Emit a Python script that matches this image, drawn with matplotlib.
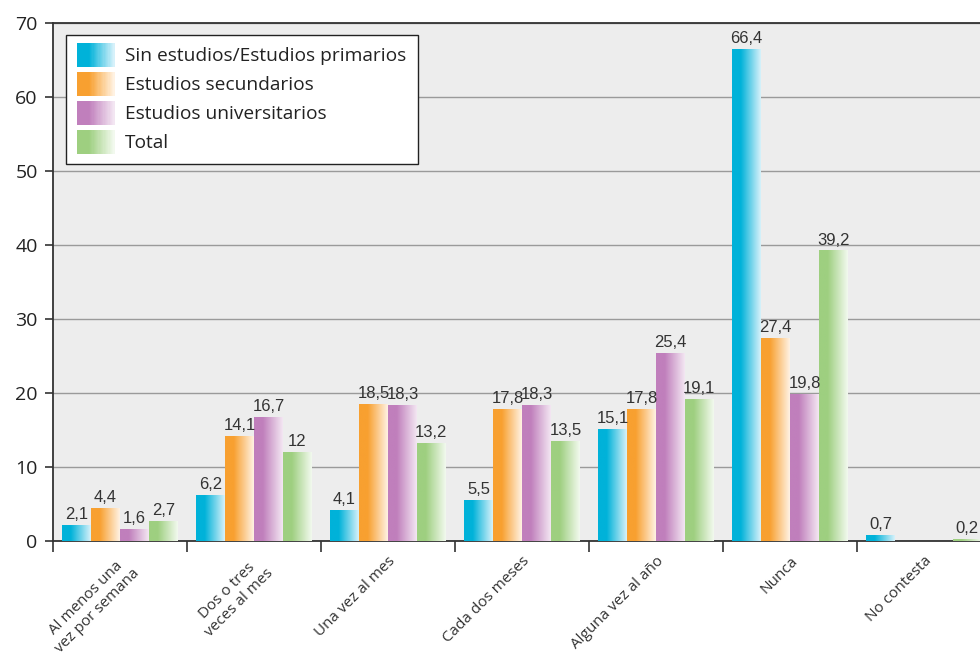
import matplotlib
matplotlib.use("Agg")
import matplotlib.pyplot as plt
import numpy as np
from matplotlib.colors import LinearSegmentedColormap
from matplotlib.patches import Rectangle
from matplotlib.legend_handler import HandlerBase

categories = ["Al menos una\nvez por semana", "Dos o tres\nveces al mes", "Una vez al mes",
              "Cada dos meses", "Alguna vez al año", "Nunca", "No contesta"]
series_names = ["Sin estudios/Estudios primarios", "Estudios secundarios",
                "Estudios universitarios", "Total"]
sin_estudios = [2.1, 6.2, 4.1, 5.5, 15.1, 66.4, 0.7]
secundarios = [4.4, 14.1, 18.5, 17.8, 17.8, 27.4, None]
universitarios = [1.6, 16.7, 18.3, 18.3, 25.4, 19.8, None]
total = [2.7, 12, 13.2, 13.5, 19.1, 39.2, 0.2]
series = [sin_estudios, secundarios, universitarios, total]
yticks = [0, 10, 20, 30, 40, 50, 60, 70]

colors = [("#00b2d9", "#d6f1fa"), ("#f8a030", "#fff2e2"),
          ("#c07fbc", "#f3e6f2"), ("#9ecf80", "#f2f9ee")]
cmaps = [LinearSegmentedColormap.from_list("g%d" % i, [(0, c0), (0.3, c0), (1, c1)])
         for i, (c0, c1) in enumerate(colors)]

fig = plt.figure(figsize=(9.8, 6.55), dpi=100)
ax = fig.add_axes([53/980, 1-541/655, (991-53)/980, (541-23)/655])
ax.set_facecolor("#ededed")

grad = np.linspace(0, 1, 64).reshape(1, -1)
bw = 0.216
n = len(series)
for si, vals in enumerate(series):
    for ci, v in enumerate(vals):
        if v is None:
            continue
        x0 = ci + (si - n/2) * bw
        ax.imshow(grad, extent=[x0, x0 + bw, 0, v], aspect="auto", cmap=cmaps[si],
                  origin="lower", zorder=3, interpolation="bilinear")
        lab = ("%g" % v).replace(".", ",")
        ax.text(x0 + bw/2, v + 0.45, lab, ha="center", va="bottom", fontsize=12,
                color="#333333", family=["Liberation Sans", "DejaVu Sans"], zorder=4)

ax.set_xlim(-0.5, len(categories) - 0.5)
ax.set_ylim(0, 70)
ax.set_yticks(yticks)
ax.set_yticklabels([str(t) for t in yticks], fontsize=14, color="#222222",
                   family=["Open Sans", "DejaVu Sans"])
ax.yaxis.grid(True, color="#9a9a9a", linewidth=1.0, zorder=1)
ax.set_axisbelow(True)

ax.set_xticks(np.arange(len(categories)) - 0.5, minor=False)
ax.set_xticklabels([""] * len(categories))
ax.tick_params(axis="x", which="major", length=8, width=1.2, color="#333333", direction="out")
ax.set_xticks(np.arange(len(categories)), minor=True)
ax.set_xticklabels(categories, minor=True, rotation=45, ha="right", rotation_mode="anchor",
                   fontsize=11, color="#333333", family=["Open Sans", "DejaVu Sans"],
                   multialignment="center")
ax.tick_params(axis="x", which="minor", length=0, pad=9)
ax.tick_params(axis="y", length=6, width=1.2, color="#333333", pad=5)

for s in ["left", "bottom", "top"]:
    ax.spines[s].set_color("#333333")
    ax.spines[s].set_linewidth(1.3)
ax.spines["right"].set_visible(False)


class GradHandler(HandlerBase):
    def __init__(self, c0, c1):
        super().__init__()
        self.c0, self.c1 = c0, c1

    def create_artists(self, legend, orig_handle, xdescent, ydescent, width, height, fontsize, trans):
        cm = LinearSegmentedColormap.from_list("h", [(0, self.c0), (0.3, self.c0), (1, self.c1)])
        arts = []
        k = 30
        for i in range(k):
            r = Rectangle((-xdescent + width * i / k, -ydescent - 2.5), width / k + 0.3, height + 5,
                          facecolor=cm(i / (k - 1)), edgecolor="none", transform=trans)
            arts.append(r)
        return arts


handles = [Rectangle((0, 0), 1, 1) for _ in series_names]
hmap = {h: GradHandler(c0, c1) for h, (c0, c1) in zip(handles, colors)}
leg = ax.legend(handles, series_names, handler_map=hmap, loc="upper left",
                bbox_to_anchor=(13/938, 1 - 12/518), borderaxespad=0, fancybox=False,
                framealpha=1, edgecolor="#222222", handlelength=1.95, handleheight=1.0,
                labelspacing=0.51, borderpad=0.59, handletextpad=0.55,
                prop={"family": ["Open Sans", "DejaVu Sans"], "size": 13.8})
leg.get_frame().set_linewidth(1.0)
for t in leg.get_texts():
    t.set_color("#222222")

fig.savefig("out.png", dpi=100)
